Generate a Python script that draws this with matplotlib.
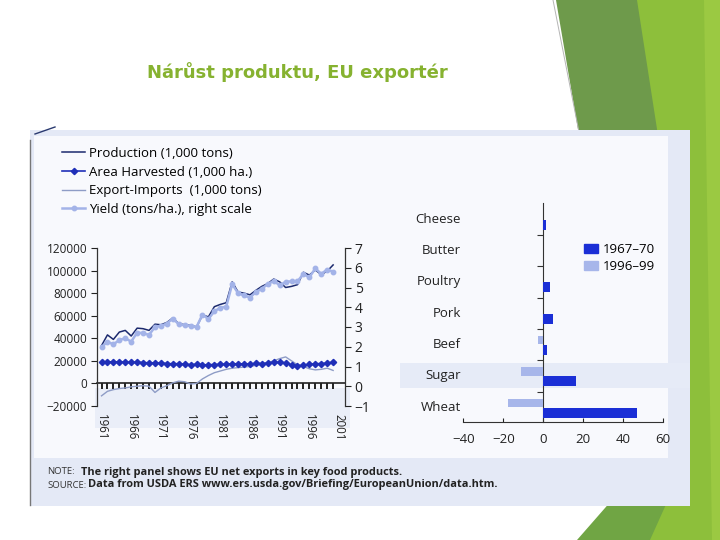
import matplotlib
matplotlib.use('Agg')
import matplotlib.pyplot as plt
import matplotlib.transforms as mtransforms
from matplotlib.patches import Polygon, Rectangle, Patch
from matplotlib.lines import Line2D
from matplotlib.ticker import FuncFormatter

plt.rcParams['font.family'] = ['Open Sans', 'DejaVu Sans']

# ---------------- data ----------------
years = list(range(1961, 2001))
production = [33500, 43000, 39000, 45500, 47000, 42000, 49000, 48500, 47000, 52500,
              52000, 54000, 58000, 53000, 52000, 51500, 50000, 60500, 59000, 68000,
              70000, 71500, 90000, 81000, 80000, 78500, 82500, 86000, 88500, 92500,
              90000, 85000, 86000, 87500, 98500, 96000, 100500, 96500, 99500, 105000]
area_harvested = [18900, 19000, 19100, 19000, 18800, 18600, 18800, 18500, 18200, 18000,
                  18100, 17600, 17400, 17500, 17000, 16600, 17000, 16400, 16600, 16700,
                  16900, 17000, 17500, 17300, 17400, 17100, 17800, 17600, 17900, 18800,
                  18600, 18300, 16600, 15800, 15900, 16800, 17400, 17600, 18000, 18800]
export_imports = [-11000, -7000, -5500, -4500, -4000, -3000, -2500, -2000, -2500, -8000,
                  -4000, -2000, 500, 2000, 1500, -500, 0, 4000, 7000, 9500,
                  11000, 12500, 13500, 14000, 14500, 15000, 16000, 17000, 18500, 20000,
                  22000, 23500, 20000, 16500, 15000, 13000, 12000, 12500, 13500, 11500]
yield_t_ha = [1.97, 2.26, 2.12, 2.34, 2.43, 2.26, 2.72, 2.69, 2.60, 3.00,
              3.06, 3.17, 3.43, 3.14, 3.09, 3.06, 3.00, 3.63, 3.40, 3.80,
              3.97, 4.03, 5.17, 4.71, 4.60, 4.49, 4.77, 4.94, 5.17, 5.34,
              5.11, 5.29, 5.31, 5.31, 5.69, 5.51, 5.97, 5.69, 5.91, 5.80]
label_years = [1961, 1966, 1971, 1976, 1981, 1986, 1991, 1996, 2001]
left_ticks = [-20000, 0, 20000, 40000, 60000, 80000, 100000, 120000]
right_ticks = [-1, 0, 1, 2, 3, 4, 5, 6, 7]
series_labels = ['Production (1,000 tons)', 'Area Harvested (1,000 ha.)',
                 'Export-Imports  (1,000 tons)', 'Yield (tons/ha.), right scale']

categories = ['Cheese', 'Butter', 'Poultry', 'Pork', 'Beef', 'Sugar', 'Wheat']
exports_1967_70 = [1.5, 0, 3.2, 4.7, 1.7, 16.2, 47]
exports_1996_99 = [0, 0, 0, 0, -2.8, -11, -17.5]
period_labels = ['1967\u201370', '1996\u201399']
bar_ticks = [-40, -20, 0, 20, 40, 60]

# ---------------- figure / slide ----------------
W, H = 720, 540
def P(x, y):
    return (x / W, 1 - y / H)

fig = plt.figure(figsize=(7.2, 5.4), dpi=100)
fig.patch.set_facecolor('white')

def poly(pts, color, z=-10):
    fig.add_artist(Polygon([P(*p) for p in pts], closed=True, transform=fig.transFigure,
                           facecolor=color, edgecolor='none', zorder=z))

def rect(x0, y0, x1, y1, color, z=-5):
    fig.add_artist(Rectangle(P(x0, y1), (x1 - x0) / W, (y1 - y0) / H, transform=fig.transFigure,
                             facecolor=color, edgecolor='none', zorder=z))

# green slide decoration
poly([(632, 0), (720, 0), (720, 540), (645, 540)], '#8dbf3b')
poly([(704, 0), (720, 0), (720, 540), (712, 540)], '#9bc942')
poly([(556, 0), (637, 0), (668, 200), (590, 200)], '#6e9a4b')
poly([(577, 540), (612, 500), (668, 500), (650, 540)], '#70a544')
fig.add_artist(Line2D([P(553, 0)[0], P(579, 132)[0]], [P(553, 0)[1], P(579, 132)[1]],
                      transform=fig.transFigure, color='#b5b5b5', lw=0.7, zorder=-9))

# scanned panel
rect(30, 130, 690, 506, '#e4e9f6')
rect(34, 136, 668, 458, '#f8f9fd')
rect(95, 388, 350, 428, '#eaeef8', z=-4)
rect(400, 363, 690, 388, '#e6ebf7', z=-4)
fig.add_artist(Line2D([P(30, 140)[0], P(30, 505)[0]], [P(30, 140)[1], P(30, 505)[1]],
                      transform=fig.transFigure, color='#777777', lw=1.0, zorder=-3))
fig.add_artist(Line2D([P(35, 134)[0], P(55, 127)[0]], [P(35, 134)[1], P(55, 127)[1]],
                      transform=fig.transFigure, color='#2a3a70', lw=1.0, zorder=-3))

fig.text(*P(297.5, 72), 'Nárůst produktu, EU exportér', family='DejaVu Sans',
         weight='bold', size=13, color='#86b230', ha='center', va='center')

# ---------------- left chart ----------------
ax = fig.add_axes([97 / W, 1 - 406 / H, 248 / W, 158 / H])
ax.set_facecolor('none')
ax.set_xlim(1960.24, 2002.0)
ax.set_ylim(-20000, 120000)
for s in ['top', 'bottom', 'right']:
    ax.spines[s].set_visible(False)
ax.spines['left'].set_color('#333333')
ax.spines['left'].set_linewidth(0.9)
ax.set_yticks(left_ticks)
ax.yaxis.set_major_formatter(FuncFormatter(lambda v, p: f'{int(v)}'.replace('-', '\u2212')))
ax.tick_params(axis='y', direction='out', length=4, width=0.8, pad=3, labelsize=8.5,
               colors='#222222')
ax.set_xticks(label_years)
ax.set_xticklabels([str(y) for y in label_years], rotation=270)
ax.tick_params(axis='x', length=0, pad=6, labelsize=8.3, colors='#222222')

l_exp, = ax.plot(years, export_imports, color='#8e9cc6', lw=1.0, zorder=2)
l_prod, = ax.plot(years, production, color='#1c2a6e', lw=1.1, zorder=4)
l_area, = ax.plot(years, area_harvested, color='#1f2fb8', lw=1.2, marker='D', ms=3.2,
                  zorder=5)

zero_frac = (0 - ax.get_ylim()[0]) / (ax.get_ylim()[1] - ax.get_ylim()[0])
sec = ax.secondary_xaxis(zero_frac)
sec.set_xticks(years)
sec.tick_params(direction='out', length=4, width=1.4, labelbottom=False, colors='#222222')
sec.spines['bottom'].set_linewidth(1.2)
sec.spines['bottom'].set_color('#222222')

ax2 = ax.twinx()
ax2.set_facecolor('none')
ax2.set_ylim(-1, 7)
for s in ['top', 'bottom', 'left']:
    ax2.spines[s].set_visible(False)
ax2.spines['right'].set_color('#333333')
ax2.spines['right'].set_linewidth(0.9)
ax2.set_yticks(right_ticks)
ax2.yaxis.set_major_formatter(FuncFormatter(lambda v, p: f'{int(v)}'.replace('-', '\u2212')))
ax2.tick_params(axis='y', direction='out', length=4, width=0.8, pad=3, labelsize=10,
                colors='#222222')
l_yield, = ax2.plot(years, yield_t_ha, color='#a3b3e8', lw=1.8, marker='o', ms=3.2,
                    zorder=3)

fig.legend(handles=[l_prod, l_area, l_exp, l_yield], labels=series_labels,
           loc='upper left', bbox_to_anchor=P(62, 147), bbox_transform=fig.transFigure,
           frameon=False, fontsize=9.5, handlelength=1.75, handletextpad=0.3,
           labelspacing=0.43, borderaxespad=0, borderpad=0)

# ---------------- right bar chart ----------------
axb = fig.add_axes([463.3 / W, 1 - 421.7 / H, 200 / W, 218.7 / H])
axb.set_facecolor('none')
n = len(categories)
pos = [n - 1 - i for i in range(n)]
axb.barh([p - 0.17 for p in pos], exports_1967_70, height=0.32, color='#1b2fd6', zorder=3)
axb.barh([p + 0.14 for p in pos], exports_1996_99, height=0.26, color='#a7b6ea', zorder=3)
axb.set_xlim(-40, 60)
axb.set_ylim(-0.46, 6.52)
axb.spines['left'].set_position(('data', 0))
for s in ['top', 'right']:
    axb.spines[s].set_visible(False)
axb.spines['left'].set_color('#333333')
axb.spines['bottom'].set_color('#333333')
axb.set_yticks([i + 0.5 for i in range(n - 1)])
axb.set_yticklabels([])
axb.tick_params(axis='y', direction='out', length=4, width=0.8, colors='#333333')
axb.set_xticks(bar_ticks)
axb.xaxis.set_major_formatter(FuncFormatter(lambda v, p: f'{int(v)}'.replace('-', '\u2212')))
axb.tick_params(axis='x', direction='in', length=3, pad=8, labelsize=9.5, colors='#222222')
trans = mtransforms.blended_transform_factory(axb.transAxes, axb.transData)
for name, p in zip(categories, pos):
    axb.text(-0.012, p, name, transform=trans, ha='right', va='center', size=9.5,
             color='#222222')

axb.legend(handles=[Patch(color='#1b2fd6'), Patch(color='#a7b6ea')], labels=period_labels,
           loc='upper left', bbox_to_anchor=P(584, 243), bbox_transform=fig.transFigure,
           frameon=False, fontsize=9.5, handlelength=1.05, handleheight=0.65,
           handletextpad=0.4, labelspacing=0.29, borderaxespad=0, borderpad=0)

# ---------------- notes ----------------
fig.text(*P(47, 472), 'NOTE:', size=6.8, color='#333333', va='center')
fig.text(*P(81, 472), 'The right panel shows EU net exports in key food products.',
         size=7.9, weight='bold', color='#222222', va='center')
fig.text(*P(47, 485), 'SOURCE:', size=6.8, color='#333333', va='center')
fig.text(*P(88, 485), 'Data from USDA ERS www.ers.usda.gov/Briefing/EuropeanUnion/data.htm.',
         size=7.9, weight='bold', color='#222222', va='center')

fig.savefig('out.png', dpi=100)
